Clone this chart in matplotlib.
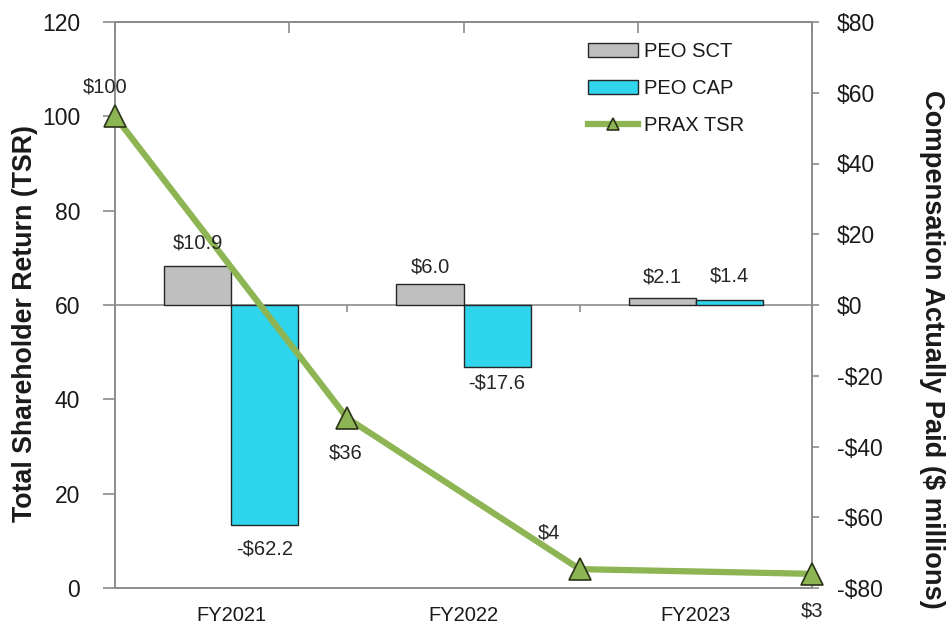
import matplotlib
matplotlib.use("Agg")
import matplotlib.pyplot as plt
import numpy as np

# ---- data ----
categories = ["FY2021", "FY2022", "FY2023"]
peo_sct = [10.9, 6.0, 2.1]
peo_cap = [-62.2, -17.6, 1.4]
sct_labels = ["$10.9", "$6.0", "$2.1"]
cap_labels = ["-$62.2", "-$17.6", "$1.4"]
tsr = [100, 36, 4, 3]
tsr_labels = ["$100", "$36", "$4", "$3"]
left_ticks = [0, 20, 40, 60, 80, 100, 120]
right_ticks = [-80, -60, -40, -20, 0, 20, 40, 60, 80]
right_ticklabels = ["-$80", "-$60", "-$40", "-$20", "$0", "$20", "$40", "$60", "$80"]

# ---- style ----
plt.rcParams["font.family"] = ["Liberation Sans", "DejaVu Sans"]
GRAY = "#BFBFBF"
CYAN = "#2ED5EC"
GREEN = "#8DB553"
SPINE = "#8C8C8C"
TXT = "#1A1A1A"
sct_offsets = [17, 12, 15]
cap_offsets = [-17, -11, 17]
tsr_offsets = [(-7, 21), (-1, -25), (-22, 26), (0, -27)]

fig = plt.figure(figsize=(9.47, 6.26), dpi=100)
ax = fig.add_axes([115 / 947, 1 - 588 / 626, (812 - 115) / 947, (588 - 22) / 626])
ax2 = ax.twinx()

x = np.arange(len(categories))
w = 0.289
ax.set_xlim(-0.5, len(categories) - 0.5)

# bars on right axis
b1 = ax2.bar(x - w / 2, peo_sct, w, color=GRAY, edgecolor="#262626", linewidth=1.0, label="PEO SCT", zorder=2)
b2 = ax2.bar(x + w / 2, peo_cap, w, color=CYAN, edgecolor="#262626", linewidth=1.0, label="PEO CAP", zorder=2)
ax2.set_ylim(-80, 80)
ax2.axhline(0, color=SPINE, linewidth=1.2, zorder=1)

# zero-line tick marks at category boundaries
ax3 = fig.add_axes(ax.get_position(), frameon=False, zorder=0)
ax3.set_xlim(ax.get_xlim())
ax3.set_ylim(-80, 80)
ax3.spines["bottom"].set_visible(True)
ax3.spines["bottom"].set_position(("data", 0))
ax3.spines["bottom"].set_color(SPINE)
ax3.spines["bottom"].set_linewidth(1.2)
for s in ["top", "left", "right"]:
    ax3.spines[s].set_visible(False)
ax3.set_xticks(x[:-1] + 0.5)
ax3.set_xticklabels([])
ax3.set_yticks([])
ax3.tick_params(axis="x", direction="out", length=5, color=SPINE, width=1.2)

# TSR line on left axis
tx = np.arange(len(tsr)) - 0.5
line, = ax.plot(tx, tsr, color=GREEN, linewidth=4.5, marker="^", markersize=16,
                markerfacecolor=GREEN, markeredgecolor="#2A3318", markeredgewidth=1.2,
                label="PRAX TSR", clip_on=False, zorder=5)
ax.set_ylim(0, 120)
for xi, v, lab, off in zip(tx, tsr, tsr_labels, tsr_offsets):
    ax.annotate(lab, (xi, v), xytext=off, textcoords="offset points",
                ha="center", va="center", fontsize=14.5, color="#262626", zorder=6)

# bar labels (drawn on the top axes so they sit above the line)
for xi, v, lab, off in zip(x - w / 2, peo_sct, sct_labels, sct_offsets):
    ax.annotate(lab, (xi, v), xycoords=ax2.transData, xytext=(0, off), textcoords="offset points",
                ha="center", va="center", fontsize=14.5, color="#262626", zorder=6)
for xi, v, lab, off in zip(x + w / 2, peo_cap, cap_labels, cap_offsets):
    ax.annotate(lab, (xi, v), xycoords=ax2.transData, xytext=(0, off), textcoords="offset points",
                ha="center", va="center", fontsize=14.5, color="#262626", zorder=6)

ax.set_zorder(ax2.get_zorder() + 1)
ax.patch.set_visible(False)
ax2.patch.set_visible(True)
ax2.patch.set_facecolor("white")

# axes styling
for a in (ax, ax2):
    for s in a.spines.values():
        s.set_color(SPINE)
        s.set_linewidth(1.2)

ax.set_yticks(left_ticks)
ax.tick_params(axis="y", direction="out", length=9, color=SPINE, width=1.2, pad=16,
               labelsize=16.5, labelcolor=TXT)
ax.set_xticks(x)
ax.set_xticklabels(categories)
ax.tick_params(axis="x", length=0, pad=13, labelsize=14.5, labelcolor=TXT)

ax2.set_yticks(right_ticks)
ax2.set_yticklabels(right_ticklabels)
ax2.tick_params(axis="y", direction="out", length=5, color=SPINE, width=1.2, pad=13,
                labelsize=16.5, labelcolor=TXT)

# top ticks
top = ax.secondary_xaxis("top")
top.set_xticks(np.linspace(-0.5, len(categories) - 0.5, 5))
top.set_xticklabels([])
top.tick_params(direction="in", length=8, color=SPINE, width=1.2)
top.spines["top"].set_color(SPINE)
top.spines["top"].set_linewidth(1.2)

# axis labels
fig.text(25 / 947, 1 - 323 / 626, "Total Shareholder Return (TSR)", rotation=90,
         ha="center", va="center", fontsize=19.3, fontweight="bold", color=TXT)
fig.text(932 / 947, 1 - 349 / 626, "Compensation Actually Paid ($ millions)", rotation=270,
         ha="center", va="center", fontsize=19.6, fontweight="bold", color=TXT)

# legend
leg = ax.legend([b1, b2, line], ["PEO SCT", "PEO CAP", "PRAX TSR"], loc="upper left",
                bbox_to_anchor=(588 / 947, 1 - 42 / 626), bbox_transform=fig.transFigure,
                frameon=False, fontsize=14.5, handlelength=2.5, handletextpad=0.3,
                labelspacing=0.9, borderpad=0, borderaxespad=0, markerscale=0.55)
for t in leg.get_texts():
    t.set_color(TXT)

fig.savefig("out.png", dpi=100)
